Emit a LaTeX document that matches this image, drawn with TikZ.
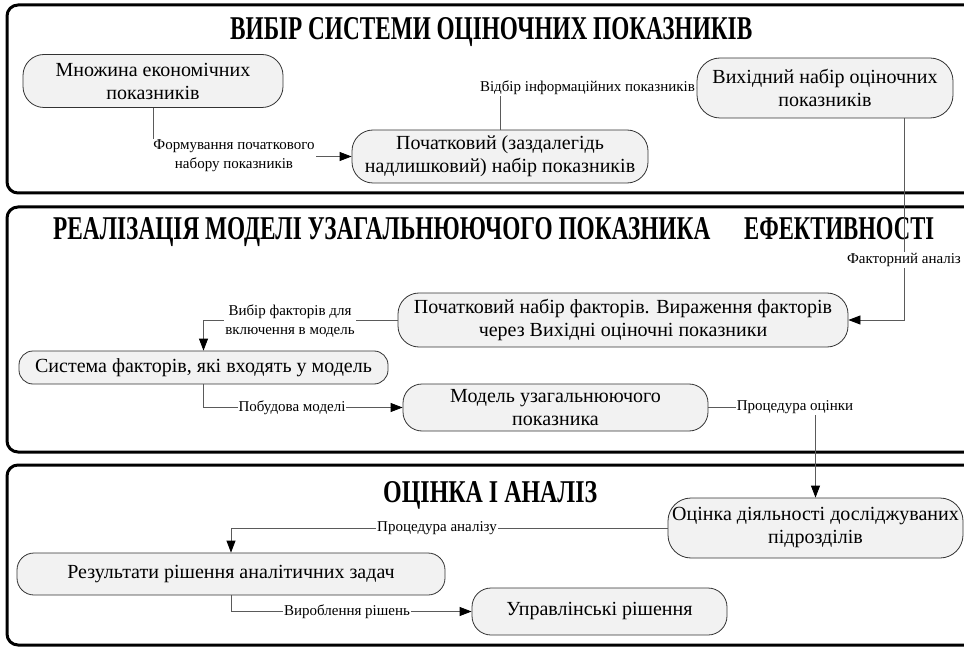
\documentclass[tikz,border=0pt]{standalone}
\usepackage{fontspec}
\setmainfont{Liberation Serif}
\usepackage{graphicx}
\usetikzlibrary{arrows.meta}
\definecolor{nodefill}{RGB}{242,242,242}
\definecolor{linegray}{RGB}{90,90,90}
\tikzset{
  frame/.style={draw=black, line width=3pt, rounded corners=11pt},
  titlebox/.style={inner sep=0pt, anchor=base west},
  box/.style={draw=black!80, fill=nodefill, line width=0.8pt, align=center, inner sep=2pt,
     font=\fontsize{20}{23}\selectfont},
  conn/.style={draw=linegray, line width=0.8pt, -{Triangle[length=12pt,width=9pt,color=black]}},
  lbl/.style={fill=white, inner sep=1pt, align=center, font=\fontsize{15}{19}\selectfont}
}
\begin{document}
\begin{tikzpicture}[x=1pt,y=-1pt]
\useasboundingbox (0,0) rectangle (964,647);
% frames (open to the right)
\draw[frame] (990,5) -- (7,5) -- (7,193) -- (990,193);
\draw[frame] (990,207) -- (7,207) -- (7,452) -- (990,452);
\draw[frame] (990,465) -- (7,465) -- (7,645) -- (990,645);
% titles
\node[titlebox] (t1) at (230,40) {\resizebox{522pt}{22pt}{\bfseries ВИБІР СИСТЕМИ ОЦІНОЧНИХ ПОКАЗНИКІВ}};
\node[titlebox] (t2a) at (53,240) {\resizebox{657pt}{22pt}{\bfseries РЕАЛІЗАЦІЯ МОДЕЛІ УЗАГАЛЬНЮЮЧОГО ПОКАЗНИКА}};
\node[titlebox] (t2b) at (744,240) {\resizebox{190pt}{22pt}{\bfseries ЕФЕКТИВНОСТІ}};
\node[titlebox] (t3) at (383,502) {\resizebox{214pt}{21pt}{\bfseries ОЦІНКА І АНАЛІЗ}};
% nodes
\node[box, minimum width=260pt, minimum height=53pt, rounded corners=21pt] (A) at (153,81) {Множина економічних\\показників};
\node[box, minimum width=296pt, minimum height=53pt, rounded corners=21pt] (B) at (500,156.5) {Початковий (заздалегідь\\надлишковий) набір показників};
\node[box, minimum width=256pt, minimum height=60pt, rounded corners=23pt] (C) at (825,88) {Вихідний набір оціночних\\показників};
\node[box, minimum width=450pt, minimum height=54pt, rounded corners=21pt] (D) at (623,320) {Початковий набір факторів. Вираження факторів\\через Вихідні оціночні показники};
\node[box, minimum width=369pt, minimum height=33pt, rounded corners=14pt] (E) at (203.5,367.5) {Система факторів, які входять у модель};
\node[box, minimum width=305pt, minimum height=47pt, rounded corners=19pt] (F) at (555.5,407.5) {Модель узагальнюючого\\показника};
\node[box, minimum width=295pt, minimum height=60pt, rounded corners=23pt] (G) at (815.5,528) {Оцінка діяльності досліджуваних\\підрозділів};
\node[box, minimum width=428pt, minimum height=42pt, rounded corners=17pt] (H) at (231,574) {Результати рішення аналітичних задач};
\node[box, minimum width=255pt, minimum height=47pt, rounded corners=19pt] (I) at (599.5,611.5) {Управлінські рішення};
% connectors
\draw[conn] (A.south) |- (B.west);
\draw[conn] (B.north) |- (C.west);
\draw[conn] ([xshift=79pt]C.south) |- (D.east);
\draw[conn] (D.west) -| (E.north);
\draw[conn] (E.south) |- (F.west);
\draw[conn] (F.east) -| (G.north);
\draw[conn] (G.west) -| (H.north);
\draw[conn] (H.south) |- (I.west);
% labels
\node[lbl] (l1) at (234,156) {Формування початкового\\набору показників};
\node[lbl, anchor=east] (l2) at ([xshift=-0.5pt]C.west) {Відбір інформаційних показників};
\node[lbl] (l3) at (904,260) {Факторний аналіз};
\node[lbl] (l4) at (290,321) {Вибір факторів для\\включення в модель};
\node[lbl] (l5) at (292,407.5) {Побудова моделі};
\node[lbl] (l6) at (795,407.5) {Процедура оцінки};
\node[lbl] (l7) at (437,528) {Процедура аналізу};
\node[lbl] (l8) at (347,611.5) {Вироблення рішень};
\end{tikzpicture}
\end{document}
